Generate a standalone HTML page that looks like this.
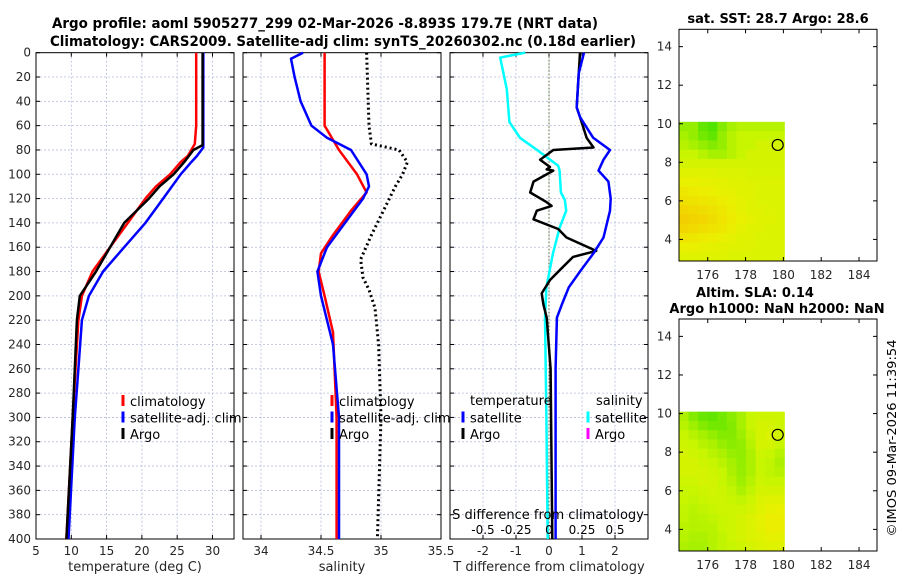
<!DOCTYPE html>
<html><head><meta charset="utf-8"><style>
body{margin:0;background:#fff;}
svg{display:block;font-family:"DejaVu Sans","Liberation Sans",sans-serif;}
</style></head><body>
<svg id="c" width="900" height="580" xmlns="http://www.w3.org/2000/svg"></svg>
<script>
// ---- data ----
const depthTicks=[0,20,40,60,80,100,120,140,160,180,200,220,240,260,280,300,320,340,360,380,400];
const tTicks=[5,10,15,20,25,30];
const sTicks=[34,34.5,35,35.5];
const dTicks=[-2,-1,0,1,2];
const dsTicks=[-0.5,-0.25,0,0.25,0.5];
const tClimDepth=[0,60,75,85,90,100,110,120,140,160,180,200,220,260,300,400];
const tClimVal=[27.7,27.7,27.5,26.5,25.5,24,22,20.5,18,15.5,13,11.5,11,10.6,10.2,9.3];
const tSatDepth=[0,78,85,90,100,120,140,160,180,200,220,260,300,400];
const tSatVal=[28.7,28.7,27.8,27,25.5,23,20.5,17.5,14.5,12.5,11.5,11,10.5,9.6];
const tArgoDepth=[0,76,80,90,100,110,120,140,160,180,200,220,260,300,400];
const tArgoVal=[28.6,28.6,27.3,26,24.5,22.5,21,17.5,15.5,13.5,11.2,10.8,10.5,10.2,9.3];
const sClimDepth=[0,60,80,100,115,130,150,165,180,200,230,300,400];
const sClimVal=[34.53,34.53,34.65,34.8,34.88,34.75,34.6,34.5,34.48,34.53,34.6,34.63,34.63];
const sSatDepth=[0,5,20,40,60,70,80,100,110,120,140,160,180,200,240,300,400];
const sSatVal=[34.35,34.25,34.28,34.33,34.42,34.55,34.75,34.88,34.9,34.85,34.7,34.55,34.47,34.5,34.6,34.65,34.65];
const sArgoDepth=[0,60,75,80,90,100,110,130,150,170,185,195,210,240,300,400];
const sArgoVal=[34.88,34.9,34.92,35.15,35.22,35.18,35.12,35.02,34.92,34.83,34.85,34.9,34.95,34.98,35.0,34.97];
const dSatDepth=[0,17,45,53,70,80,88,97,106,120,130,152,165,180,193,207,218,260,400];
const dSatVal=[1.06,0.9,0.84,0.94,1.34,1.85,1.65,1.5,1.8,1.87,1.85,1.65,1.35,0.94,0.6,0.39,0.24,0.2,0.2];
const dArgoDepth=[0,45,53,70,78,80,88,94,96,97,106,115,123,126,130,137,145,152,163,168,176,187,198,207,218,260,400];
const dArgoVal=[0.94,0.84,0.94,1.14,1.35,0.13,-0.27,0.03,-0.07,0.13,-0.47,-0.57,-0.07,0.08,-0.37,-0.47,0.28,0.53,1.43,0.73,0.43,0.03,-0.22,-0.17,-0.07,0.05,0.1];
const dsDepth=[0,4,30,57,70,80,93,97,115,121,130,144,165,193,218,300,400];
const dsVal=[-0.18,-0.37,-0.32,-0.3,-0.22,-0.09,0.07,0.08,0.09,0.12,0.13,0.08,0.03,-0.02,-0.03,-0.02,-0.01];
const latTicks=[4,6,8,10,12,14];
const lonTicks=[176,178,180,182,184];
const sstGrid=[
[0.35,0.35,0.2,0.15,0.3,0.4,0.45,0.45,0.45,0.45,0.45],
[0.4,0.35,0.25,0.2,0.35,0.45,0.5,0.5,0.5,0.5,0.5],
[0.45,0.4,0.35,0.3,0.35,0.45,0.5,0.5,0.55,0.55,0.55],
[0.5,0.5,0.45,0.4,0.4,0.45,0.5,0.55,0.55,0.55,0.55],
[0.55,0.55,0.55,0.55,0.55,0.55,0.55,0.55,0.55,0.55,0.55],
[0.6,0.6,0.6,0.6,0.58,0.58,0.58,0.57,0.57,0.56,0.56],
[0.64,0.64,0.63,0.62,0.62,0.6,0.6,0.59,0.58,0.58,0.58],
[0.7,0.68,0.66,0.65,0.63,0.62,0.6,0.6,0.58,0.58,0.58],
[0.74,0.73,0.71,0.69,0.67,0.64,0.62,0.6,0.58,0.58,0.58],
[0.8,0.78,0.76,0.73,0.7,0.66,0.62,0.6,0.6,0.58,0.58],
[0.84,0.82,0.8,0.76,0.72,0.68,0.64,0.62,0.6,0.6,0.58],
[0.8,0.78,0.75,0.72,0.7,0.66,0.62,0.6,0.6,0.58,0.58],
[0.72,0.7,0.68,0.66,0.64,0.62,0.6,0.6,0.58,0.58,0.58],
[0.65,0.64,0.63,0.62,0.61,0.6,0.6,0.59,0.58,0.58,0.58],
[0.6,0.6,0.6,0.6,0.6,0.58,0.58,0.58,0.58,0.58,0.58]];
const slaGrid=[
[0.42,0.3,0.22,0.2,0.25,0.32,0.4,0.5,0.52,0.52,0.52],
[0.45,0.38,0.3,0.25,0.25,0.3,0.4,0.5,0.55,0.55,0.52],
[0.5,0.45,0.4,0.35,0.3,0.3,0.38,0.48,0.55,0.58,0.55],
[0.52,0.5,0.45,0.42,0.36,0.32,0.34,0.45,0.55,0.55,0.5],
[0.55,0.52,0.5,0.46,0.42,0.36,0.34,0.42,0.52,0.5,0.45],
[0.55,0.55,0.52,0.5,0.46,0.4,0.35,0.42,0.5,0.48,0.42],
[0.55,0.55,0.55,0.52,0.5,0.42,0.36,0.42,0.5,0.48,0.45],
[0.52,0.52,0.55,0.54,0.5,0.45,0.38,0.45,0.52,0.5,0.5],
[0.5,0.5,0.52,0.54,0.52,0.48,0.42,0.48,0.55,0.55,0.55],
[0.5,0.48,0.5,0.52,0.52,0.5,0.48,0.52,0.58,0.6,0.6],
[0.48,0.46,0.48,0.5,0.52,0.52,0.52,0.55,0.6,0.63,0.64],
[0.48,0.45,0.46,0.48,0.5,0.52,0.55,0.58,0.62,0.66,0.66],
[0.46,0.44,0.45,0.46,0.5,0.52,0.55,0.58,0.62,0.66,0.66],
[0.45,0.42,0.42,0.45,0.48,0.52,0.55,0.58,0.6,0.63,0.62],
[0.42,0.4,0.4,0.44,0.48,0.5,0.52,0.55,0.58,0.6,0.6]];

const NS="http://www.w3.org/2000/svg";
const svg=document.getElementById('c');
function mk(tag,attrs,parent,text){const e=document.createElementNS(NS,tag);for(const k in attrs)e.setAttribute(k,attrs[k]);if(text!==undefined)e.textContent=text;(parent||svg).appendChild(e);return e;}
function lin(d0,d1,r0,r1){return v=>r0+(v-d0)*(r1-r0)/(d1-d0);}
const PT=52.7,PB=539;
const Y=lin(0,400,PT,PB);
const panels=[
 {x0:36,x1:234,dom:[5,33.05],ticks:tTicks,name:'temperature-panel',label:'temperature (deg C)'},
 {x0:243,x1:441,dom:[33.85,35.5],ticks:sTicks,name:'salinity-panel',label:'salinity'},
 {x0:450,x1:648,dom:[-3,3],ticks:dTicks,name:'difference-panel',label:'T difference from climatology'}];
panels.forEach((p,pi)=>{
 const g=mk('g',{},svg);
 
 
 const X=lin(p.dom[0],p.dom[1],p.x0,p.x1);p.X=X;
 depthTicks.forEach(d=>{if(d>0&&d<400)mk('line',{x1:p.x0,x2:p.x1,y1:Y(d),y2:Y(d),stroke:'#b4bcdc','stroke-width':0.8,'stroke-dasharray':'2,2'},g);
  mk('line',{x1:p.x0,x2:p.x0+4,y1:Y(d),y2:Y(d),stroke:'#000'},g);mk('line',{x1:p.x1,x2:p.x1-4,y1:Y(d),y2:Y(d),stroke:'#000'},g);
  if(pi===0){const t=mk('text',{x:p.x0-5,y:Y(d)+4,'text-anchor':'end','font-size':12,fill:'#262626'},g,d);}});
 p.ticks.forEach(v=>{const x=X(v);if(x>p.x0+1&&x<p.x1-1)mk('line',{x1:x,x2:x,y1:PT,y2:PB,stroke:'#b4bcdc','stroke-width':0.8,'stroke-dasharray':'2,2'},g);
  mk('line',{x1:x,x2:x,y1:PB,y2:PB-4,stroke:'#000'},g);mk('line',{x1:x,x2:x,y1:PT,y2:PT+4,stroke:'#000'},g);
  const t=mk('text',{x:x,y:555,'text-anchor':'middle','font-size':12,fill:'#262626'},g,v);});
 mk('rect',{x:p.x0,y:PT,width:p.x1-p.x0,height:PB-PT,fill:'none',stroke:'#000','stroke-width':1},g);
 const t=mk('text',{x:(p.x0+p.x1)/2,y:571,'text-anchor':'middle','font-size':13,fill:'#262626'},g,p.label);
 
});
mk('line',{x1:panels[2].X(0),x2:panels[2].X(0),y1:PT,y2:PB,stroke:'#556b2f','stroke-width':1,'stroke-dasharray':'1.5,2'});
function series(X,ds,vs,color,w,name,dash){const pts=ds.map((d,i)=>X(vs[i]).toFixed(1)+','+Y(d).toFixed(1)).join(' ');
 const a={points:pts,fill:'none',stroke:color,'stroke-width':w,'stroke-linejoin':'round'};if(dash)a['stroke-dasharray']=dash;
 const e=mk('polyline',a);}
const P=panels;
series(P[0].X,tClimDepth,tClimVal,'#f00',2.5,'temp-climatology-line');
series(P[0].X,tSatDepth,tSatVal,'#00f',2.5,'temp-satellite-line');
series(P[0].X,tArgoDepth,tArgoVal,'#000',2.5,'temp-argo-line');
series(P[1].X,sClimDepth,sClimVal,'#f00',2.5,'sal-climatology-line');
series(P[1].X,sSatDepth,sSatVal,'#00f',2.5,'sal-satellite-line');
series(P[1].X,sArgoDepth,sArgoVal,'#000',3,'sal-argo-line','2,3');
const XS=v=>P[2].X(v*4);
series(XS,dsDepth,dsVal,'#0ff',2.5,'sal-diff-satellite-line');
series(P[2].X,dArgoDepth,dArgoVal,'#000',2.5,'temp-diff-argo-line');
series(P[2].X,dSatDepth,dSatVal,'#00f',2.5,'temp-diff-satellite-line');
function leg(x,y,color,label,name){const g=mk('g',{});
 mk('line',{x1:x,x2:x,y1:y-6,y2:y+5,stroke:color,'stroke-width':3},g);mk('text',{x:x+7,y:y+5,'font-size':13,fill:'#000'},g,label);}
leg(123,401,'#f00','climatology','legend-climatology');leg(123,417.5,'#00f','satellite-adj. clim','legend-satellite');leg(123,434,'#000','Argo','legend-argo');
leg(332,401,'#f00','climatology','legend-climatology');leg(332,417.5,'#00f','satellite-adj. clim','legend-satellite');leg(332,434,'#000','Argo','legend-argo');
mk('text',{x:470,y:405,'font-size':13},svg,'temperature');mk('text',{x:596,y:405,'font-size':13},svg,'salinity');
leg(463,417.5,'#00f','satellite','legend-temp-satellite');leg(463,434,'#000','Argo','legend-temp-argo');
leg(588,417.5,'#0ff','satellite','legend-sal-satellite');leg(588,434,'#f0f','Argo','legend-sal-argo');
mk('text',{x:548,y:519,'text-anchor':'middle','font-size':13},svg,'S difference from climatology');
dsTicks.forEach(v=>{mk('text',{x:XS(v),y:534,'text-anchor':'middle','font-size':12},svg,v);});
const t1=mk('text',{x:325,y:28,'text-anchor':'middle','font-size':14,'font-weight':'bold',textLength:546,lengthAdjust:'spacingAndGlyphs'},svg,'Argo profile: aoml 5905277_299 02-Mar-2026 -8.893S 179.7E (NRT data)');

const t2=mk('text',{x:343,y:46,'text-anchor':'middle','font-size':14,'font-weight':'bold',textLength:586,lengthAdjust:'spacingAndGlyphs'},svg,'Climatology: CARS2009. Satellite-adj clim: synTS_20260302.nc (0.18d earlier)');

function cmap(t){const stops=[[0,[30,220,0]],[0.5,[200,245,0]],[0.65,[235,240,0]],[1,[248,180,0]]];
 for(let i=0;i<stops.length-1;i++){const[a,ca]=stops[i],[b,cb]=stops[i+1];if(t<=b){const f=(t-a)/(b-a);return 'rgb('+ca.map((c,j)=>Math.round(c+f*(cb[j]-c))).join(',')+')';}}return 'rgb(248,180,0)';}
function map(top,bot,grid,name){const g=mk('g',{});
 const X=lin(174.48,184.95,679,877),Yl=lin(14.9,2.88,top,bot);
 const rows=grid.length,cols=grid[0].length,dLat=(10.1-2.88)/rows,dLon=(180.05-174.48)/cols;
 grid.forEach((r,i)=>r.forEach((v,j)=>{const x0=X(174.48+j*dLon),x1=X(174.48+(j+1)*dLon),y0=Yl(10.1-i*dLat),y1=Yl(10.1-(i+1)*dLat);
  const c=mk('rect',{x:x0,y:y0,width:x1-x0+0.5,height:y1-y0+0.5,fill:cmap(v)},g);}));
 mk('circle',{cx:X(179.7),cy:Yl(8.9),r:5.5,fill:'none',stroke:'#000','stroke-width':1.2},g);
 mk('rect',{x:679,y:top,width:198,height:bot-top,fill:'none',stroke:'#000'},g);
 latTicks.forEach(v=>{const y=Yl(v);mk('line',{x1:679,x2:683,y1:y,y2:y,stroke:'#000'},g);mk('line',{x1:877,x2:873,y1:y,y2:y,stroke:'#000'},g);
  mk('text',{x:672,y:y+4,'text-anchor':'end','font-size':12,fill:'#262626'},g,v);});
 lonTicks.forEach(v=>{const x=X(v);mk('line',{x1:x,x2:x,y1:bot,y2:bot-4,stroke:'#000'},g);mk('line',{x1:x,x2:x,y1:top,y2:top+4,stroke:'#000'},g);
  mk('text',{x:x,y:bot+18,'text-anchor':'middle','font-size':12,fill:'#262626'},g,v);});
}
map(29.3,261,sstGrid,'sst-map');map(319,551,slaGrid,'sla-map');
mk('text',{x:778,y:23,'text-anchor':'middle','font-size':13,'font-weight':'bold'},svg,'sat. SST: 28.7 Argo: 28.6');
mk('text',{x:755,y:297,'text-anchor':'middle','font-size':13,'font-weight':'bold'},svg,'Altim. SLA: 0.14');
mk('text',{x:777,y:313,'text-anchor':'middle','font-size':13,'font-weight':'bold'},svg,'Argo h1000: NaN h2000: NaN');
mk('text',{x:0,y:0,'text-anchor':'middle','font-size':12,transform:'translate(896,438) rotate(-90)',textLength:197,lengthAdjust:'spacingAndGlyphs'},svg,'©IMOS 09-Mar-2026 11:39:54');
</script>
</body></html>
